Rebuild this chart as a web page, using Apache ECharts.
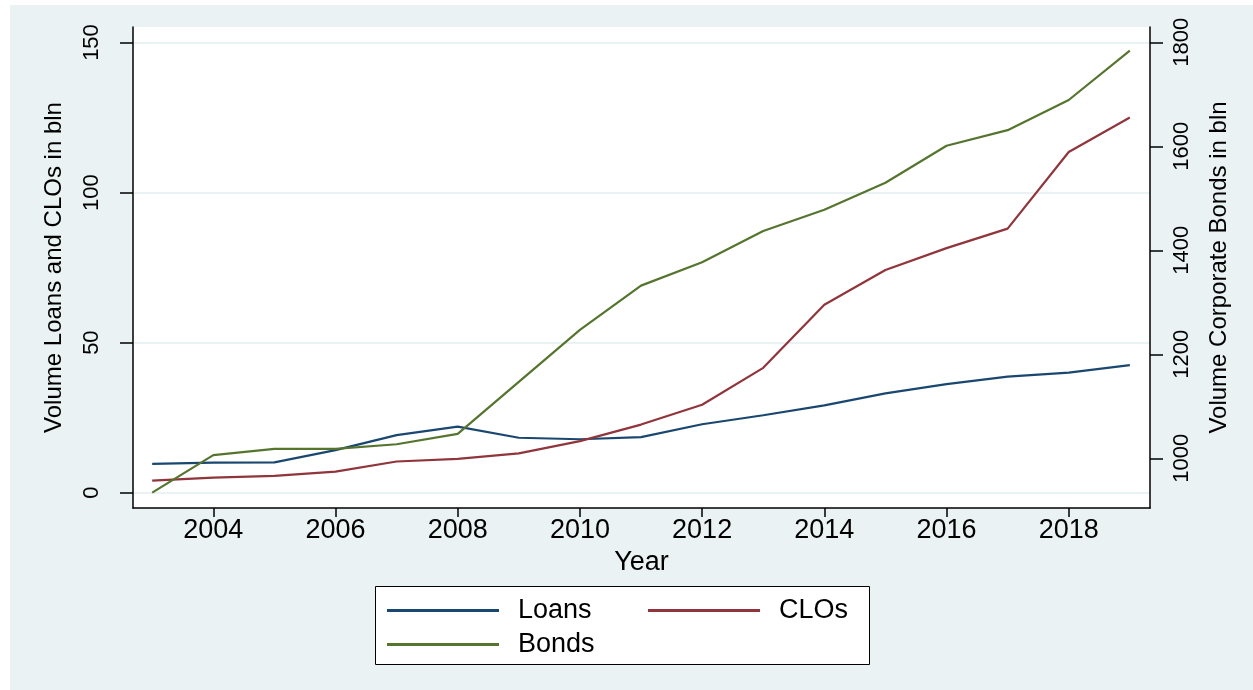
<!DOCTYPE html>
<html>
<head>
<meta charset="utf-8">
<script src="https://cdn.jsdelivr.net/npm/echarts@6/dist/echarts.min.js"></script>
<style>
  html, body { margin: 0; padding: 0; background: #ffffff; }
  #chart { position: absolute; left: 10px; top: 5px; width: 1243px; height: 685px; }
</style>
</head>
<body>
<div id="chart"></div>
<script>
// ---- data ----
const years = [2003, 2004, 2005, 2006, 2007, 2008, 2009, 2010, 2011, 2012, 2013, 2014, 2015, 2016, 2017, 2018, 2019];
const loans = [9.6, 10.0, 10.1, 14.2, 19.2, 22.0, 18.3, 17.8, 18.5, 22.8, 25.8, 29.1, 33.1, 36.2, 38.7, 40.0, 42.5];
const clos  = [4.0, 5.0, 5.6, 7.0, 10.4, 11.3, 13.1, 17.2, 22.7, 29.3, 41.6, 62.6, 74.2, 81.5, 88.0, 113.5, 125.0];
const bonds = [934, 1006, 1018, 1018, 1027, 1047, 1147, 1247, 1332, 1377, 1437, 1478, 1530, 1601, 1631, 1689, 1784];
const xTicks = [2004, 2006, 2008, 2010, 2012, 2014, 2016, 2018];
const leftTicks = [0, 50, 100, 150];
const rightTicks = [1000, 1200, 1400, 1600, 1800];
const seriesNames = ['Loans', 'CLOs', 'Bonds'];

const pair = (arr) => years.map((y, i) => [y, arr[i]]);
const FONT = '"Liberation Sans", Arial, Helvetica, sans-serif';

const chart = echarts.init(document.getElementById('chart'), null, { renderer: 'canvas' });
chart.setOption({
  backgroundColor: '#EAF2F3',
  animation: false,
  textStyle: { fontFamily: FONT, color: '#000' },
  grid: {
    left: 123, right: 103, top: 22, bottom: 182,
    show: true, backgroundColor: '#ffffff', borderWidth: 0
  },
  xAxis: {
    type: 'value',
    min: 2002.686, max: 2019.33,
    name: 'Year',
    nameLocation: 'middle',
    nameGap: 40,
    nameTextStyle: { fontSize: 27, color: '#000', fontFamily: FONT, verticalAlign: 'middle' },
    axisLine: { show: true, onZero: false, lineStyle: { color: '#000', width: 1.5 } },
    axisTick: { show: true, length: 9, customValues: xTicks, lineStyle: { color: '#000', width: 1.5 } },
    axisLabel: { customValues: xTicks, fontSize: 27, color: '#000', fontFamily: FONT, margin: 23, verticalAlign: 'middle', formatter: (v) => String(v) },
    splitLine: { show: false }
  },
  yAxis: [
    {
      type: 'value',
      position: 'left',
      min: -5.1, max: 155.17,
      name: 'Volume Loans and CLOs in bln',
      nameLocation: 'middle',
      nameRotate: 90,
      nameGap: 79,
      nameTextStyle: { fontSize: 24, color: '#000', fontFamily: FONT, verticalAlign: 'middle', align: 'center' },
      axisLine: { show: true, onZero: false, lineStyle: { color: '#000', width: 1.5 } },
      axisTick: { show: true, length: 13, customValues: leftTicks, lineStyle: { color: '#000', width: 1.5 } },
      axisLabel: { customValues: leftTicks, rotate: 90, fontSize: 22, color: '#000', fontFamily: FONT, margin: 41, align: 'center', verticalAlign: 'middle', formatter: (v) => String(v) },
      splitLine: { show: true, lineStyle: { color: '#EAF2F3', width: 2 } }
    },
    {
      type: 'value',
      position: 'right',
      min: 904.4, max: 1829.4,
      name: 'Volume Corporate Bonds in bln',
      nameLocation: 'middle',
      nameRotate: 90,
      nameGap: 69,
      nameTextStyle: { fontSize: 24, color: '#000', fontFamily: FONT, verticalAlign: 'middle', align: 'center' },
      axisLine: { show: true, onZero: false, lineStyle: { color: '#000', width: 1.5 } },
      axisTick: { show: true, length: 13, customValues: rightTicks, lineStyle: { color: '#000', width: 1.5 } },
      axisLabel: { customValues: rightTicks, rotate: 90, fontSize: 22, color: '#000', fontFamily: FONT, margin: 32, align: 'center', verticalAlign: 'middle', formatter: (v) => String(v) },
      splitLine: { show: false }
    }
  ],
  legend: {
    left: 377, top: 592,
    orient: 'horizontal',
    width: 530,
    padding: 0,
    icon: 'rect',
    itemWidth: 112, itemHeight: 3,
    itemGap: 7,
    data: seriesNames,
    textStyle: { fontSize: 27, color: '#000', fontFamily: FONT, width: 123, lineHeight: 20, padding: [0, 0, 0, 14] }
  },
  graphic: [
    {
      type: 'rect', z: -1,
      shape: { x: 365.5, y: 581.5, width: 494, height: 78 },
      style: { fill: '#ffffff', stroke: '#000000', lineWidth: 1 }
    }
  ],
  series: [
    { name: 'Loans', type: 'line', yAxisIndex: 0, data: pair(loans), showSymbol: false, symbol: 'none',
      lineStyle: { color: '#1A476F', width: 2.2 }, itemStyle: { color: '#1A476F' } },
    { name: 'CLOs', type: 'line', yAxisIndex: 0, data: pair(clos), showSymbol: false, symbol: 'none',
      lineStyle: { color: '#90353B', width: 2.2 }, itemStyle: { color: '#90353B' } },
    { name: 'Bonds', type: 'line', yAxisIndex: 1, data: pair(bonds), showSymbol: false, symbol: 'none',
      lineStyle: { color: '#55752F', width: 2.2 }, itemStyle: { color: '#55752F' } }
  ]
});
</script>
</body>
</html>
